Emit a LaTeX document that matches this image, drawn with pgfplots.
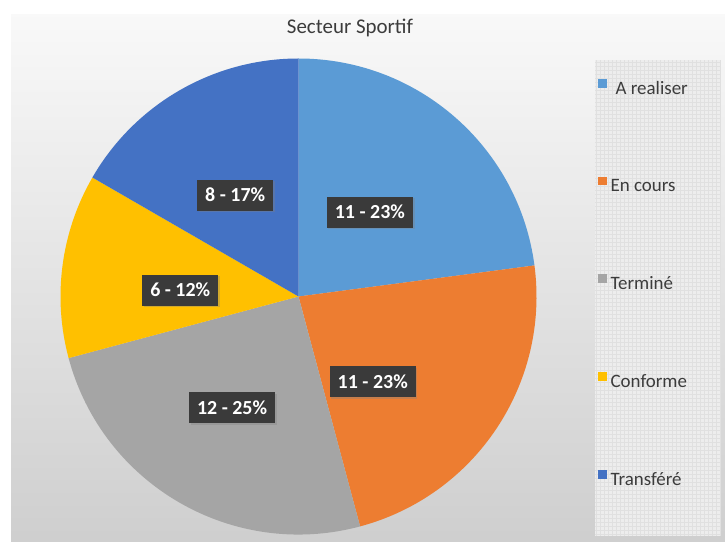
\documentclass[border=0pt]{standalone}
\usepackage{pgfplots}
\pgfplotsset{compat=1.18}
\usepackage{pgfplotstable}
\usepackage{fontspec}
\setmainfont{Carlito}
\usetikzlibrary{shadows}

\definecolor{c1}{HTML}{5B9BD5}
\definecolor{c2}{HTML}{ED7D31}
\definecolor{c3}{HTML}{A5A5A5}
\definecolor{c4}{HTML}{FFC000}
\definecolor{c5}{HTML}{4472C4}
\definecolor{txt}{HTML}{3C3C3C}
\definecolor{lblbg}{HTML}{3A3A3A}

% value, rounded percent as shown, label position (fraction of radius), colour
\pgfplotstableread{
value pct lx ly col
11 23 0.300 0.354 c1
11 23 0.312 -0.358 c2
12 25 -0.279 -0.467 c3
6 12 -0.497 0.027 c4
8 17 -0.266 0.426 c5
}\piedata

\begin{document}
\begin{tikzpicture}[
  lbl/.style={fill=lblbg, text=white, font=\bfseries\fontsize{10}{12}\selectfont,
    inner xsep=4bp, inner ysep=4bp, text height=7bp, text depth=0.5bp,
    drop shadow={shadow xshift=0.8bp, shadow yshift=-0.8bp, opacity=0.35}}]
\path[use as bounding box] (0,0) rectangle (362.5bp,271bp);
\shade[top color=gray!5, bottom color=gray!38] (5.5bp,0) rectangle (362.5bp,263.5bp);
\fill[gray!14] (297.5bp,3bp) rectangle (360bp,241bp);
\draw[gray!24, line width=0.2bp, step=2bp] (297.5bp,3bp) grid (360bp,241bp);
\node[text=txt, font=\fontsize{10.5}{12}\selectfont] at (175bp,257bp) {Secteur Sportif};
\begin{axis}[
  at={(149.25bp,122.75bp)}, anchor=origin,
  x=119bp, y=119bp, scale only axis,
  xmin=-1, xmax=1, ymin=-1, ymax=1,
  hide axis,
  legend style={at={(1.128,0.962)}, anchor=north west, draw=none, fill=none,
    inner sep=0pt, row sep=37bp, font=\fontsize{9.5}{11}\selectfont,
    text=txt, cells={anchor=west}},
  legend image code/.code={\fill[draw=none,#1] (0bp,0.6bp) rectangle (4.4bp,5bp);},
]
\pgfplotstablegetrowsof{\piedata}
\pgfmathtruncatemacro\nrows{\pgfplotsretval-1}
\def\total{0}
\pgfplotsforeachungrouped \i in {0,...,\nrows}{%
  \pgfplotstablegetelem{\i}{value}\of\piedata
  \pgfmathsetmacro\total{\total+\pgfplotsretval}%
}
\def\cum{0}
\pgfplotsforeachungrouped \i in {0,...,\nrows}{%
  \pgfplotstablegetelem{\i}{value}\of\piedata \let\v\pgfplotsretval
  \pgfplotstablegetelem{\i}{col}\of\piedata \let\col\pgfplotsretval
  \pgfmathsetmacro\a{90-\cum/\total*360}%
  \pgfmathsetmacro\b{90-(\cum+\v)/\total*360}%
  \edef\temp{\noexpand\fill[\col] (axis cs:0,0) -- (axis cs:{cos(\a)},{sin(\a)})
    arc[start angle=\a, end angle=\b, radius=1] -- cycle;}%
  \temp
  \pgfmathsetmacro\cum{\cum+\v}%
}
\pgfplotsforeachungrouped \i in {0,...,\nrows}{%
  \pgfplotstablegetelem{\i}{value}\of\piedata \let\v\pgfplotsretval
  \pgfplotstablegetelem{\i}{pct}\of\piedata \let\p\pgfplotsretval
  \pgfplotstablegetelem{\i}{lx}\of\piedata \let\lx\pgfplotsretval
  \pgfplotstablegetelem{\i}{ly}\of\piedata \let\ly\pgfplotsretval
  \edef\temp{\noexpand\node[lbl] at (axis cs:\lx,\ly) {\v\space-\space\p\noexpand\%};}%
  \temp
}
\addlegendimage{fill=c1}\addlegendentry{\hspace{2.5bp}A realiser}
\addlegendimage{fill=c2}\addlegendentry{En cours}
\addlegendimage{fill=c3}\addlegendentry{Terminé}
\addlegendimage{fill=c4}\addlegendentry{Conforme}
\addlegendimage{fill=c5}\addlegendentry{Transféré}
\end{axis}
\end{tikzpicture}
\end{document}
